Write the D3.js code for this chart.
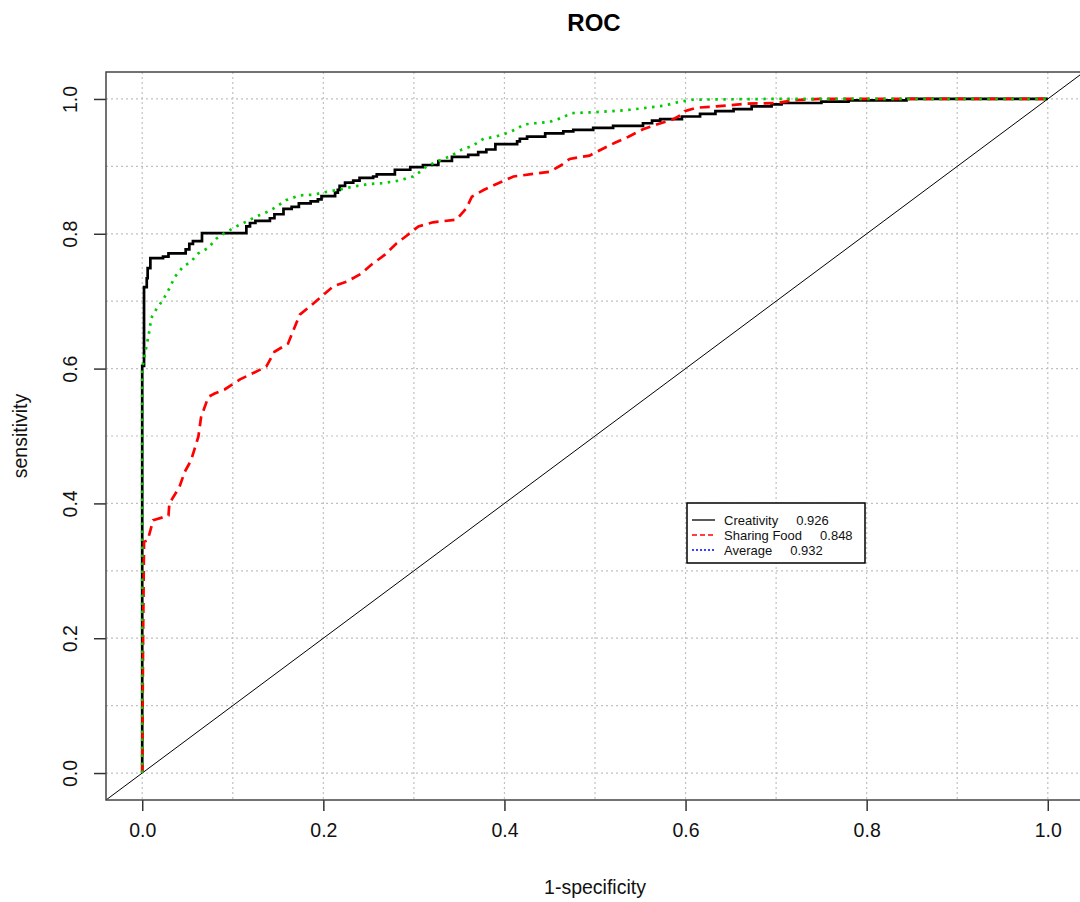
<!DOCTYPE html>
<html>
<head>
<meta charset="utf-8">
<script src="https://cdn.jsdelivr.net/npm/d3@7"></script>
<style>
  body { margin: 0; background: #fff; }
  text { font-family: "Liberation Sans", Arial, sans-serif; }
</style>
</head>
<body>
<div id="chart"></div>
<script>
var width = 1080;
var height = 902;

// plot box (R style, axis range padded by 4%)
var boxLeft = 106, boxRight = 1084, boxTop = 72, boxBottom = 800;

var xTicks = [0, 0.2, 0.4, 0.6, 0.8, 1.0];
var yTicks = [0, 0.2, 0.4, 0.6, 0.8, 1.0];
var gridTicks = [0, 0.1, 0.2, 0.3, 0.4, 0.5, 0.6, 0.7, 0.8, 0.9, 1.0];

// Creativity (black, solid) - step points, top of each vertical run
var creativityX = [0, 0, 0.002, 0.005, 0.006, 0.009, 0.023, 0.029, 0.048, 0.052, 0.056, 0.066,
  0.115, 0.119, 0.125, 0.141, 0.146, 0.156, 0.165, 0.173, 0.186, 0.194, 0.198, 0.213, 0.216,
  0.218, 0.224, 0.233, 0.240, 0.255, 0.259, 0.279, 0.296, 0.310, 0.327, 0.342, 0.360, 0.371,
  0.380, 0.390, 0.414, 0.417, 0.425, 0.445, 0.465, 0.476, 0.498, 0.520, 0.553, 0.563, 0.572,
  0.596, 0.616, 0.633, 0.653, 0.673, 0.695, 0.706, 0.750, 0.780, 0.844, 1];
var creativityY = [0, 0.604, 0.721, 0.734, 0.749, 0.764, 0.766, 0.771, 0.777, 0.785, 0.789, 0.801,
  0.811, 0.816, 0.819, 0.823, 0.829, 0.837, 0.840, 0.845, 0.848, 0.851, 0.856, 0.861, 0.865,
  0.871, 0.876, 0.879, 0.883, 0.885, 0.888, 0.895, 0.899, 0.902, 0.908, 0.914, 0.917, 0.921,
  0.925, 0.933, 0.937, 0.941, 0.944, 0.949, 0.952, 0.954, 0.957, 0.960, 0.964, 0.968, 0.970,
  0.974, 0.978, 0.982, 0.985, 0.989, 0.992, 0.994, 0.996, 0.998, 1.0, 1.0];

// Sharing Food (red, dashed)
var sharingX = [0, 0.001, 0.002, 0.006, 0.012, 0.029, 0.030, 0.041, 0.047, 0.054, 0.062, 0.065,
  0.073, 0.080, 0.091, 0.108, 0.122, 0.137, 0.146, 0.161, 0.167, 0.174, 0.185, 0.198, 0.211,
  0.226, 0.242, 0.253, 0.268, 0.281, 0.292, 0.305, 0.321, 0.347, 0.358, 0.364, 0.377, 0.395,
  0.410, 0.450, 0.463, 0.472, 0.494, 0.507, 0.522, 0.537, 0.553, 0.568, 0.585, 0.596, 0.599,
  0.612, 0.634, 0.668, 0.701, 0.719, 0.749, 1];
var sharingY = [0, 0.207, 0.343, 0.345, 0.375, 0.382, 0.400, 0.424, 0.447, 0.464, 0.499, 0.528,
  0.558, 0.563, 0.569, 0.584, 0.593, 0.603, 0.625, 0.637, 0.657, 0.680, 0.692, 0.707, 0.722,
  0.729, 0.741, 0.754, 0.769, 0.786, 0.797, 0.811, 0.817, 0.821, 0.838, 0.855, 0.865, 0.876,
  0.885, 0.892, 0.902, 0.911, 0.916, 0.925, 0.935, 0.944, 0.955, 0.962, 0.969, 0.977, 0.982,
  0.987, 0.989, 0.993, 0.994, 0.998, 1.0, 1.0];

// Average (green, dotted)
var averageX = [0, 0, 0.003, 0.006, 0.008, 0.010, 0.016, 0.023, 0.030, 0.036, 0.045, 0.054,
  0.062, 0.073, 0.082, 0.091, 0.104, 0.115, 0.125, 0.139, 0.148, 0.159, 0.174, 0.189, 0.203,
  0.216, 0.233, 0.251, 0.266, 0.284, 0.299, 0.308, 0.314, 0.325, 0.340, 0.353, 0.364, 0.377,
  0.390, 0.402, 0.413, 0.421, 0.434, 0.450, 0.463, 0.474, 0.494, 0.520, 0.539, 0.557, 0.576,
  0.594, 0.609, 0.690, 1];
var averageY = [0, 0.600, 0.622, 0.642, 0.657, 0.675, 0.689, 0.702, 0.719, 0.736, 0.751, 0.759,
  0.771, 0.779, 0.793, 0.801, 0.811, 0.818, 0.825, 0.833, 0.840, 0.850, 0.857, 0.858, 0.862,
  0.865, 0.870, 0.874, 0.875, 0.879, 0.885, 0.893, 0.900, 0.907, 0.915, 0.925, 0.930, 0.941,
  0.944, 0.949, 0.955, 0.962, 0.964, 0.966, 0.972, 0.979, 0.980, 0.982, 0.984, 0.987, 0.990,
  0.996, 0.999, 1.0, 1.0];

var legendLabels = ["Creativity", "Sharing Food", "Average"];
var legendAuc = ["0.926", "0.848", "0.932"];
var legendColors = ["#000000", "#ff0000", "#0000ff"];
var legendDash = ["none", "5,3", "2,2"];

var svg = d3.select("#chart")
  .append("svg")
  .attr("width", width)
  .attr("height", height);

var x = d3.scaleLinear().domain([-0.04, 1.04]).range([boxLeft, boxRight]);
var y = d3.scaleLinear().domain([-0.04, 1.04]).range([boxBottom, boxTop]);

svg.append("clipPath")
  .attr("id", "plotClip")
  .append("rect")
  .attr("x", boxLeft)
  .attr("y", boxTop)
  .attr("width", boxRight - boxLeft)
  .attr("height", boxBottom - boxTop);

// grid
var grid = svg.append("g").attr("clip-path", "url(#plotClip)");
grid.selectAll(".vgrid").data(gridTicks).enter()
  .append("line")
  .attr("x1", function(d) { return x(d); })
  .attr("x2", function(d) { return x(d); })
  .attr("y1", boxTop)
  .attr("y2", boxBottom)
  .style("stroke", "#c0c0c0")
  .style("stroke-width", 1.2)
  .style("stroke-dasharray", "2,3");
grid.selectAll(".hgrid").data(gridTicks).enter()
  .append("line")
  .attr("x1", boxLeft)
  .attr("x2", boxRight)
  .attr("y1", function(d) { return y(d); })
  .attr("y2", function(d) { return y(d); })
  .style("stroke", "#c0c0c0")
  .style("stroke-width", 1.2)
  .style("stroke-dasharray", "2,3");

// axes
var xAxis = d3.axisBottom(x).tickValues(xTicks).tickSize(11).tickPadding(12)
  .tickFormat(d3.format(".1f"));
var gx = svg.append("g")
  .attr("transform", "translate(0," + boxBottom + ")")
  .call(xAxis);
gx.select(".domain").remove();
gx.selectAll("line").style("stroke", "#333").style("stroke-width", 1.5);
gx.selectAll("text").style("font-size", "19.5px").style("fill", "#111");

var yAxis = d3.axisLeft(y).tickValues(yTicks).tickSize(12).tickFormat(d3.format(".1f"));
var gy = svg.append("g")
  .attr("transform", "translate(" + boxLeft + ",0)")
  .call(yAxis);
gy.select(".domain").remove();
gy.selectAll("line").style("stroke", "#333").style("stroke-width", 1.5);
gy.selectAll("text")
  .attr("x", null)
  .attr("dy", null)
  .attr("transform", "translate(-29,0) rotate(-90)")
  .attr("text-anchor", "middle")
  .style("font-size", "19.5px")
  .style("fill", "#111");

// curves
var plot = svg.append("g").attr("clip-path", "url(#plotClip)");

plot.append("line")
  .attr("x1", x(-0.04))
  .attr("y1", y(-0.04))
  .attr("x2", x(1.04))
  .attr("y2", y(1.04))
  .style("stroke", "#000")
  .style("stroke-width", 1);

var stepLine = d3.line()
  .x(function(d) { return x(d[0]); })
  .y(function(d) { return y(d[1]); })
  .curve(d3.curveStepAfter);
var plainLine = d3.line()
  .x(function(d) { return x(d[0]); })
  .y(function(d) { return y(d[1]); });

plot.append("path")
  .datum(d3.zip(creativityX, creativityY))
  .attr("d", stepLine)
  .style("fill", "none")
  .style("stroke", "#000")
  .style("stroke-width", 2.7);

plot.append("path")
  .datum(d3.zip(sharingX, sharingY))
  .attr("d", plainLine)
  .style("fill", "none")
  .style("stroke", "#ff0000")
  .style("stroke-width", 2.7)
  .style("stroke-dasharray", "10,6");

plot.append("path")
  .datum(d3.zip(averageX, averageY))
  .attr("d", plainLine)
  .style("fill", "none")
  .style("stroke", "#00cc00")
  .style("stroke-width", 2.7)
  .style("stroke-dasharray", "2.5,5.5");

// box
svg.append("rect")
  .attr("x", boxLeft)
  .attr("y", boxTop)
  .attr("width", boxRight - boxLeft)
  .attr("height", boxBottom - boxTop)
  .style("fill", "none")
  .style("stroke", "#444")
  .style("stroke-width", 1.5);

// legend
var legend = svg.append("g").attr("transform", "translate(687,503)");
legend.append("rect")
  .attr("width", 178)
  .attr("height", 60)
  .style("fill", "#fff")
  .style("stroke", "#000")
  .style("stroke-width", 1.5);

var rows = legend.selectAll(".row").data(legendLabels).enter()
  .append("g")
  .attr("transform", function(d, i) { return "translate(0," + (17 + i * 15) + ")"; });
rows.append("line")
  .attr("x1", 5)
  .attr("x2", 28)
  .style("stroke", function(d, i) { return legendColors[i]; })
  .style("stroke-width", 1.3)
  .style("stroke-dasharray", function(d, i) { return legendDash[i]; });
var rowText = rows.append("text")
  .attr("x", 37)
  .attr("y", 4.5)
  .style("font-size", "13px")
  .style("fill", "#111");
rowText.append("tspan").text(function(d) { return d; });
rowText.append("tspan")
  .attr("dx", 18)
  .text(function(d, i) { return legendAuc[i]; });

// titles
svg.append("text")
  .attr("x", 594)
  .attr("y", 31)
  .attr("text-anchor", "middle")
  .style("font-size", "24px")
  .style("font-weight", "bold")
  .text("ROC");

svg.append("text")
  .attr("x", 595)
  .attr("y", 894)
  .attr("text-anchor", "middle")
  .style("font-size", "19.5px")
  .style("fill", "#111")
  .text("1-specificity");

svg.append("text")
  .attr("transform", "translate(27,436) rotate(-90)")
  .attr("text-anchor", "middle")
  .style("font-size", "19.5px")
  .style("fill", "#111")
  .text("sensitivity");
</script>
</body>
</html>
